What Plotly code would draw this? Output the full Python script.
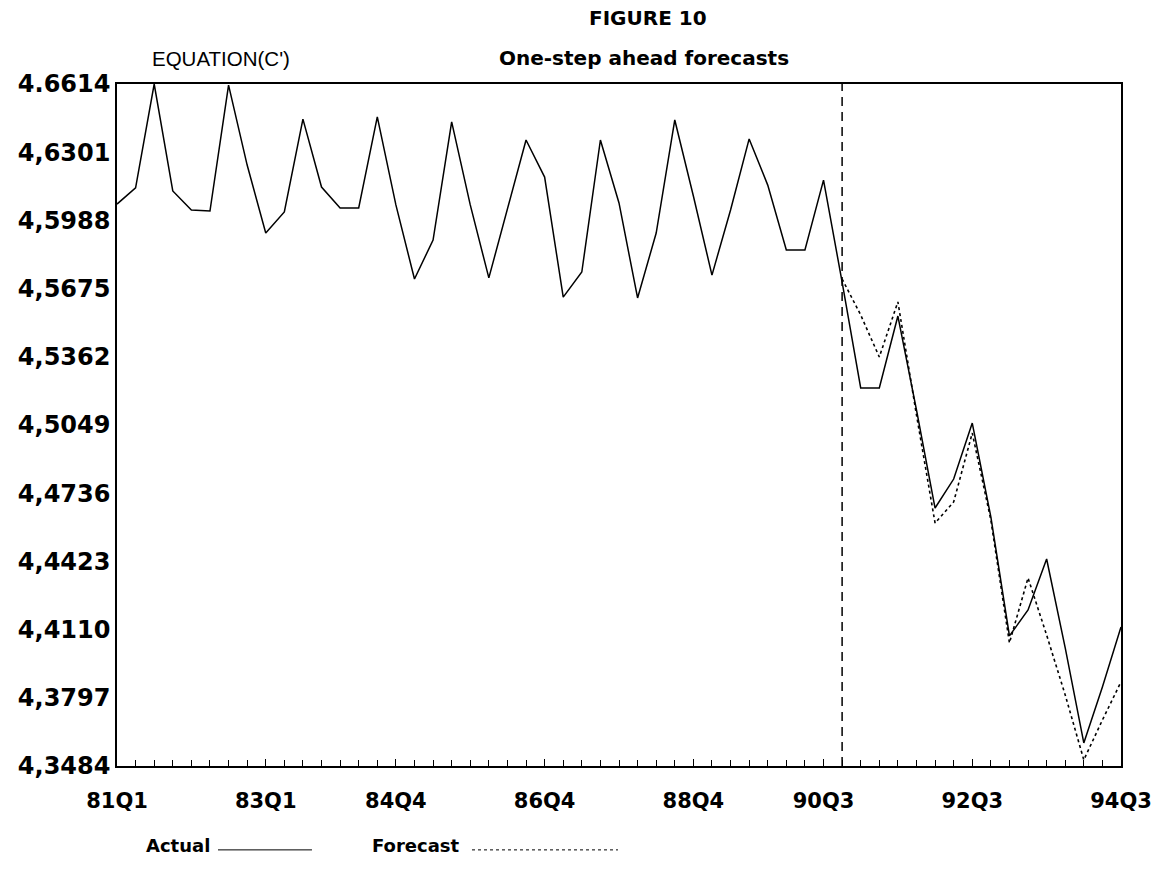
import plotly.graph_objects as go

# ---------------- data ----------------
quarters = [f"{yy}Q{q}" for yy in range(81, 95) for q in range(1, 5)][:55]  # 81Q1 .. 94Q3

actual = [
    4.6063, 4.6137, 4.6614, 4.6123, 4.6036, 4.6031, 4.6609, 4.6242,
    4.5930, 4.6027, 4.6453, 4.6141, 4.6045, 4.6045, 4.6463, 4.6059,
    4.5719, 4.5898, 4.6440, 4.6059, 4.5724, 4.6040, 4.6357, 4.6187,
    4.5636, 4.5751, 4.6357, 4.6068, 4.5632, 4.5930, 4.6449, 4.6100,
    4.5737, 4.6036, 4.6362, 4.6150, 4.5852, 4.5852, 4.6173, 4.5705,
    4.5219, 4.5219, 4.5549, 4.5118, 4.4668, 4.4801, 4.5058, 4.4627,
    4.4081, 4.4200, 4.4434, 4.4026, 4.3590, 4.3847, 4.4122,
]

forecast_start = "90Q4"
forecast = [
    4.5719, 4.5554, 4.5361, 4.5614, 4.5095, 4.4599, 4.4696, 4.5012,
    4.4613, 4.4049, 4.4347, 4.4085, 4.3810, 4.3512, 4.3695, 4.3870,
]

x_tick_labels = ["81Q1", "83Q1", "84Q4", "86Q4", "88Q4", "90Q3", "92Q3", "94Q3"]

y_tick_values = [4.3484, 4.3797, 4.4110, 4.4423, 4.4736, 4.5049,
                 4.5362, 4.5675, 4.5988, 4.6301, 4.6614]
y_tick_labels = ["4,3484", "4,3797", "4,4110", "4,4423", "4,4736", "4,5049",
                 "4,5362", "4,5675", "4,5988", "4,6301", "4.6614"]

# ---------------- figure ----------------
x_actual = list(range(len(quarters)))
f0 = quarters.index(forecast_start)
x_forecast = list(range(f0, f0 + len(forecast)))

BOLD = dict(family="DejaVu Sans", weight="bold", color="black")

fig = go.Figure()
fig.add_trace(go.Scatter(
    x=x_actual, y=actual, mode="lines", name="Actual",
    customdata=quarters, hovertemplate="%{customdata}: %{y}<extra>Actual</extra>",
    line=dict(color="black", width=1.5), showlegend=False,
))
fig.add_trace(go.Scatter(
    x=x_forecast, y=forecast, mode="lines", name="Forecast",
    customdata=quarters[f0:f0 + len(forecast)],
    hovertemplate="%{customdata}: %{y}<extra>Forecast</extra>",
    line=dict(color="black", width=1.6, dash="dot"), showlegend=False,
))

# vertical dashed marker at forecast start
fig.add_shape(type="line", xref="x", yref="paper", x0=f0, x1=f0, y0=0, y1=1,
              line=dict(color="black", width=1.5, dash="9px,6px"))

# titles
fig.add_annotation(text="FIGURE 10", xref="paper", yref="paper", x=0.529, y=1.097,
                   xanchor="center", yanchor="middle",
                   showarrow=False, font=dict(size=20, **BOLD))
fig.add_annotation(text="One-step ahead forecasts", xref="paper", yref="paper",
                   x=0.525, y=1.038, xanchor="center", yanchor="middle",
                   showarrow=False, font=dict(size=20, **BOLD))
fig.add_annotation(text="EQUATION(C')", xref="paper", yref="paper", x=0.1036, y=1.038,
                   xanchor="center", yanchor="middle", showarrow=False,
                   font=dict(family="Liberation Sans", size=20.5, color="black"))

# custom legend (text before the line sample, as in the original)
fig.add_annotation(text="Actual", xref="paper", yref="paper", x=0.0946, y=-0.117,
                   xanchor="right", yanchor="middle", showarrow=False,
                   font=dict(size=18, **BOLD))
fig.add_shape(type="line", xref="paper", yref="paper", x0=0.1006, x1=0.1942,
              y0=-0.123, y1=-0.123, line=dict(color="black", width=1))
fig.add_annotation(text="Forecast", xref="paper", yref="paper", x=0.344, y=-0.117,
                   xanchor="right", yanchor="middle", showarrow=False,
                   font=dict(size=18, **BOLD))
fig.add_shape(type="line", xref="paper", yref="paper", x0=0.3536, x1=0.4990,
              y0=-0.123, y1=-0.123, line=dict(color="black", width=1, dash="dot"))

fig.update_xaxes(
    range=[0, len(quarters) - 1],
    tickmode="array",
    tickvals=[quarters.index(t) for t in x_tick_labels],
    ticktext=x_tick_labels,
    ticks="inside", ticklen=7, tickwidth=1, tickcolor="black",
    minor=dict(ticks="inside", dtick=1, tick0=0, ticklen=6, tickwidth=1, tickcolor="black"),
    showline=True, mirror=True, linecolor="black", linewidth=1.5,
    showgrid=False, zeroline=False,
    tickfont=dict(size=21, **BOLD),
    ticklabelstandoff=15,
)
fig.update_yaxes(
    range=[y_tick_values[0], y_tick_values[-1]],
    tickmode="array", tickvals=y_tick_values, ticktext=y_tick_labels,
    ticks="", showline=True, mirror=True, linecolor="black", linewidth=1.5,
    showgrid=False, zeroline=False,
    tickfont=dict(size=24, **BOLD),
)
fig.update_layout(
    width=1168, height=879,
    margin=dict(l=117, r=47, t=84, b=113),
    paper_bgcolor="white", plot_bgcolor="white",
    showlegend=False,
)
fig.write_html("out.html")
